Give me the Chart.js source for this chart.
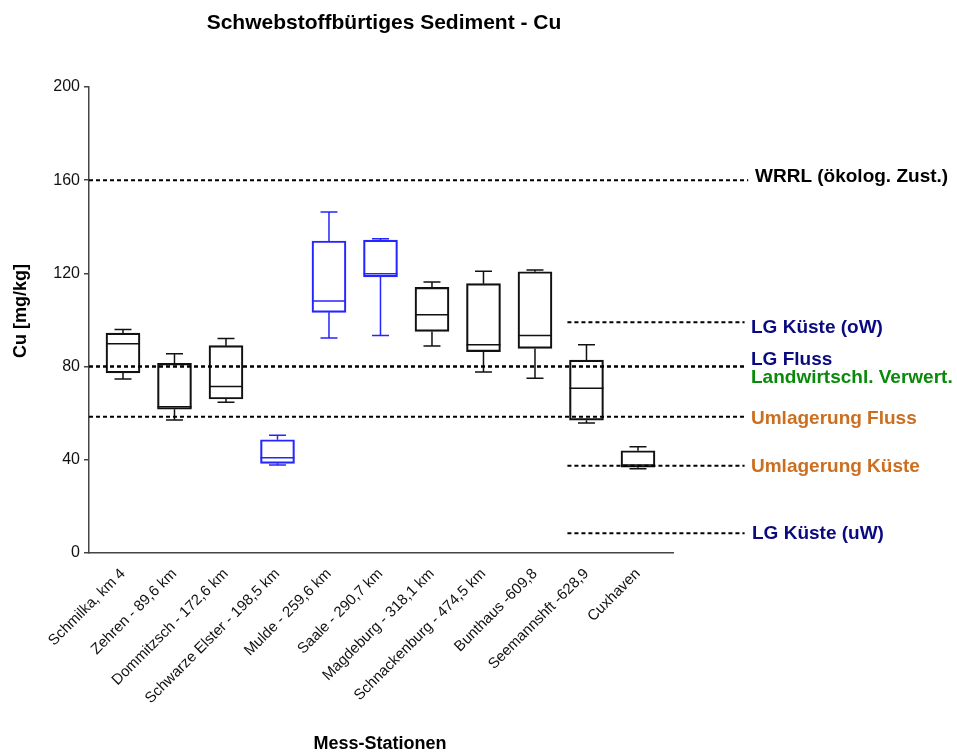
<!DOCTYPE html>
<html>
<head>
<meta charset="utf-8">
<script src="https://cdn.jsdelivr.net/npm/chart.js@4.4.0/dist/chart.umd.min.js"></script>
<style>
    html, body { margin: 0; padding: 0; background: #fff; }
</style>
</head>
<body>
<canvas id="boxChart" width="957" height="754"></canvas>
<script>
// Stations along the Elbe (x categories)
const stations = [
    "Schmilka, km 4", "Zehren - 89,6 km", "Dommitzsch - 172,6 km", "Schwarze Elster - 198,5 km",
    "Mulde - 259,6 km", "Saale - 290,7 km", "Magdeburg - 318,1 km", "Schnackenburg - 474,5 km",
    "Bunthaus -609,8", "Seemannshft -628,9", "Cuxhaven"
];
// Box plot values, Cu [mg/kg]
const whiskerLow  = [74.7, 57.1, 64.7, 37.8,  92.3,  93.3,  88.8,  77.7,  75.0, 55.8, 36.2];
const quartile1   = [77.3, 61.7, 66.1, 38.5, 103.3, 118.5,  95.1,  86.4,  87.8, 57.0, 36.8];
const medians     = [89.8, 62.8, 71.5, 40.9, 108.2, 119.9, 102.3,  89.4,  93.3, 70.7, 37.8];
const quartile3   = [94.4, 81.4, 89.0, 48.6, 133.9, 134.3, 114.0, 115.6, 120.7, 82.8, 43.9];
const whiskerHigh = [95.9, 85.5, 92.1, 50.5, 146.4, 134.9, 116.3, 120.9, 121.5, 89.4, 45.6];
// tributaries are drawn in blue
const tributaries = ["Schwarze Elster - 198,5 km", "Mulde - 259,6 km", "Saale - 290,7 km"];

// Guide values (dashed lines)
const guideLabels = ["WRRL (ökolog. Zust.)", "LG Küste (oW)", "LG Fluss", "Landwirtschl. Verwert.",
                     "Umlagerung Fluss", "Umlagerung Küste", "LG Küste (uW)"];
const guideValues = [160, 99, 80, 80, 58.5, 37.5, 8.5];
const guideScope  = ["Fluss", "Küste", "Fluss", "Fluss", "Fluss", "Küste", "Küste"];

// y ticks
const yMin = 0, yMax = 200, yStep = 40;

// styles
const FONT = "'Liberation Sans', Arial, sans-serif";
const guideColors = ["#000000", "#0a0a80", "#0a0a80", "#0a8a0a", "#cc6e1e", "#cc6e1e", "#0a0a80"];
const guideLabelX = [755, 751, 751, 751, 751, 751, 752];
const guideLabelDy = [-3, 5, -7, 11, 2, 1, 1];
const xMin = -0.66, xMax = 10.68;
const coastStart = 8.63, guideEnd = 12.07;

const boxColor = stations.map(s => tributaries.includes(s) ? "#2525ff" : "#111111");

const guideDatasets = guideValues.map((v, i) => ({
    type: "line",
    data: [{ x: guideScope[i] === "Küste" ? coastStart : xMin, y: v }, { x: i === 0 ? guideEnd + 0.07 : guideEnd, y: v }],
    borderColor: "#000",
    borderWidth: 2,
    borderDash: [4, 3],
    pointRadius: 0,
    clip: false,
    order: 1
}));

// whiskers and medians, drawn from the scales
const whiskerPlugin = {
    id: "whiskers",
    beforeDatasetsDraw(chart) {
        const ctx = chart.ctx;
        const xs = chart.scales.x, ys = chart.scales.y;
        ctx.save();
        ctx.lineWidth = 1.5;
        stations.forEach((s, i) => {
            const x = xs.getPixelForValue(i);
            ctx.strokeStyle = boxColor[i];
            ctx.beginPath();
            ctx.moveTo(x, ys.getPixelForValue(quartile3[i]));
            ctx.lineTo(x, ys.getPixelForValue(whiskerHigh[i]));
            ctx.moveTo(x - 8.5, ys.getPixelForValue(whiskerHigh[i]));
            ctx.lineTo(x + 8.5, ys.getPixelForValue(whiskerHigh[i]));
            ctx.moveTo(x, ys.getPixelForValue(quartile1[i]));
            ctx.lineTo(x, ys.getPixelForValue(whiskerLow[i]));
            ctx.moveTo(x - 8.5, ys.getPixelForValue(whiskerLow[i]));
            ctx.lineTo(x + 8.5, ys.getPixelForValue(whiskerLow[i]));
            ctx.moveTo(x - 17, ys.getPixelForValue(medians[i]));
            ctx.lineTo(x + 17, ys.getPixelForValue(medians[i]));
            ctx.stroke();
        });
        ctx.restore();
    }
};

// titles and guide labels
const textPlugin = {
    id: "texts",
    afterDraw(chart) {
        const ctx = chart.ctx;
        const ys = chart.scales.y;
        ctx.save();
        ctx.fillStyle = "#000";
        ctx.textAlign = "center";
        ctx.textBaseline = "middle";
        ctx.font = "bold 21px " + FONT;
        ctx.fillText("Schwebstoffbürtiges Sediment - Cu", 384, 23);
        ctx.font = "bold 18px " + FONT;
        ctx.fillText("Mess-Stationen", 380, 744);
        ctx.save();
        ctx.translate(21, 311);
        ctx.rotate(-Math.PI / 2);
        ctx.fillText("Cu [mg/kg]", 0, 0);
        ctx.restore();

        ctx.textAlign = "left";
        ctx.font = "bold 19px " + FONT;
        guideLabels.forEach((label, i) => {
            ctx.fillStyle = guideColors[i];
            ctx.fillText(label, guideLabelX[i], ys.getPixelForValue(guideValues[i]) + guideLabelDy[i]);
        });
        ctx.restore();
    }
};

new Chart(document.getElementById("boxChart"), {
    type: "bar",
    data: {
        datasets: [
            {
                type: "bar",
                data: stations.map((s, i) => ({ x: i, y: [quartile1[i], quartile3[i]] })),
                backgroundColor: "rgba(0,0,0,0)",
                borderColor: boxColor,
                borderWidth: 1.5,
                borderSkipped: false,
                barThickness: 34,
                order: 2
            },
            ...guideDatasets
        ]
    },
    options: {
        responsive: false,
        animation: false,
        layout: { padding: { top: 87, right: 284, left: 0, bottom: 0 } },
        plugins: {
            legend: { display: false },
            tooltip: { enabled: false },
            title: { display: false }
        },
        scales: {
            x: {
                type: "linear",
                min: xMin,
                max: xMax,
                offset: false,
                grid: { display: false, offset: false },
                border: { color: "#444", width: 1.5 },
                afterBuildTicks: scale => { scale.ticks = stations.map((s, i) => ({ value: i })); },
                afterFit: scale => { scale.height = 201; },
                ticks: {
                    autoSkip: false,
                    minRotation: 45,
                    maxRotation: 45,
                    padding: 4,
                    color: "#111",
                    font: { size: 15, family: FONT },
                    callback: v => stations[v]
                }
            },
            y: {
                min: yMin,
                max: yMax,
                grid: { drawOnChartArea: false, tickLength: 5, color: "#444", lineWidth: 1.5 },
                border: { color: "#444", width: 1.5 },
                afterFit: scale => { scale.width = 89; },
                ticks: {
                    stepSize: yStep,
                    padding: 4,
                    color: "#111",
                    font: { size: 16, family: FONT }
                }
            }
        }
    },
    plugins: [whiskerPlugin, textPlugin]
});
</script>
</body>
</html>
